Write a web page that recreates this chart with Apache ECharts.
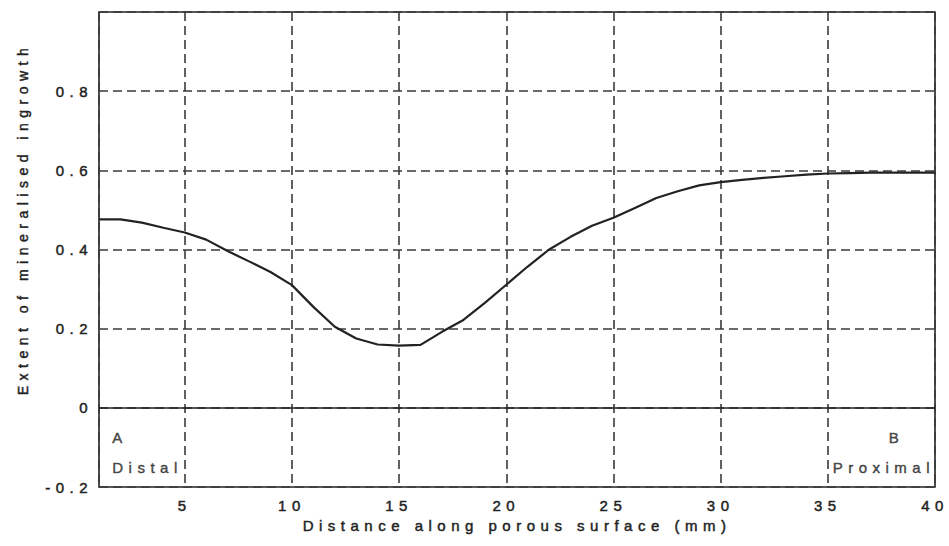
<!DOCTYPE html>
<html>
<head>
<meta charset="utf-8">
<script src="https://cdn.jsdelivr.net/npm/echarts@6/dist/echarts.min.js"></script>
<style>
  html, body { margin: 0; padding: 0; background: #ffffff; }
  #chart { width: 949px; height: 546px; }
  /* the figure's lettering is typed with wide spacing */
  #chart text { letter-spacing: 5.5px; }
</style>
</head>
<body>
<div id="chart"></div>
<script>
// Distance along the porous surface (mm) and the extent of mineralised ingrowth
const distanceMm = [1, 2, 3, 4, 5, 6, 7, 8, 9, 10,
                    11, 12, 13, 14, 15, 16, 17, 18, 19, 20,
                    21, 22, 23, 24, 25, 26, 27, 28, 29, 30,
                    31, 32, 33, 34, 35, 36, 37, 38, 39, 40];
const ingrowth = [0.476, 0.476, 0.468, 0.455, 0.443, 0.425, 0.396, 0.370, 0.343, 0.310,
                  0.255, 0.205, 0.175, 0.160, 0.157, 0.159, 0.192, 0.222, 0.265, 0.311,
                  0.357, 0.400, 0.432, 0.460, 0.480, 0.505, 0.530, 0.547, 0.562, 0.570,
                  0.576, 0.581, 0.585, 0.589, 0.592, 0.593, 0.594, 0.594, 0.594, 0.594];

// Axis tick labels
const xTickLabels = ['5', '10', '15', '20', '25', '30', '35', '40'];
const yTickValues = [-0.2, 0, 0.2, 0.4, 0.6, 0.8];
const yTickLabels = ['-0.2', '0', '0.2', '0.4', '0.6', '0.8'];

// Titles and end annotations
const xTitle = 'Distance along porous surface (mm)';
const yTitle = 'Extent of mineralised ingrowth';
const endLetters = ['A', 'B'];
const endNames = ['Distal', 'Proximal'];

const FONT = "'Liberation Sans', Arial, Helvetica, sans-serif";
const INK = '#222222';
const TEXT = '#222222';
const GRIDLINE = '#3a3a3a';

// a hairline outline gives the lettering a little more weight
const textWeight = { textBorderColor: TEXT, textBorderWidth: 0.45 };

const chart = echarts.init(document.getElementById('chart'), null, { renderer: 'svg' });

const lineData = distanceMm.map((d, i) => [d, ingrowth[i]]);

const annotationStyle = Object.assign(
  { show: true, position: 'inside', color: TEXT, fontFamily: FONT, fontSize: 15, verticalAlign: 'middle' },
  textWeight
);

chart.setOption({
  animation: false,
  backgroundColor: '#ffffff',
  grid: {
    left: 99, right: 14, top: 12, bottom: 59,
    show: true, borderColor: INK, borderWidth: 1.6, backgroundColor: 'transparent'
  },
  xAxis: {
    type: 'value',
    min: 1, max: 40,
    splitNumber: 8,
    axisLine: { show: false },
    axisTick: { show: false },
    axisLabel: Object.assign({
      color: TEXT, fontFamily: FONT, fontSize: 15, margin: 11,
      showMinLabel: false,
      formatter: (v) => {
        const s = String(Math.round(v));
        return xTickLabels.includes(s) ? s : '';
      }
    }, textWeight),
    splitLine: { show: true, lineStyle: { color: GRIDLINE, width: 1.6, type: [9, 5] } },
    name: xTitle,
    nameLocation: 'middle',
    nameGap: 27,
    nameTextStyle: Object.assign({ color: TEXT, fontFamily: FONT, fontSize: 15 }, textWeight)
  },
  yAxis: {
    type: 'value',
    min: -0.2, max: 1.0, interval: 0.2,
    axisLine: { show: false },
    axisTick: { show: false },
    axisLabel: Object.assign({
      color: TEXT, fontFamily: FONT, fontSize: 15, margin: 6,
      showMaxLabel: false,
      formatter: (v) => {
        const i = yTickValues.findIndex((t) => Math.abs(t - v) < 1e-6);
        return i >= 0 ? yTickLabels[i] : '';
      }
    }, textWeight),
    splitLine: { show: true, lineStyle: { color: GRIDLINE, width: 1.6, type: [9, 5] } }
  },
  graphic: [{
    type: 'text',
    x: 23, y: 219,
    rotation: Math.PI / 2,
    style: {
      text: yTitle,
      fill: TEXT,
      stroke: TEXT,
      lineWidth: 0.45,
      font: '14px ' + FONT,
      textAlign: 'center',
      textVerticalAlign: 'middle'
    }
  }],
  series: [
    {
      type: 'line',
      data: lineData,
      showSymbol: false,
      symbol: 'none',
      lineStyle: { color: INK, width: 2.2 },
      z: 5,
      markLine: {
        silent: true,
        symbol: 'none',
        label: { show: false },
        lineStyle: { color: INK, width: 1.6, type: 'solid' },
        data: [{ yAxis: 0 }]
      }
    },
    {
      type: 'scatter',
      symbolSize: 0,
      silent: true,
      data: [
        { value: [1.62, -0.075], name: endLetters[0], label: Object.assign({}, annotationStyle, { align: 'left' }) },
        { value: [1.62, -0.150], name: endNames[0], label: Object.assign({}, annotationStyle, { align: 'left' }) },
        { value: [38.2, -0.075], name: endLetters[1], label: Object.assign({}, annotationStyle, { align: 'center' }) },
        { value: [40.0, -0.150], name: endNames[1], label: Object.assign({}, annotationStyle, { align: 'right' }) }
      ],
      label: { show: true, formatter: (p) => p.name }
    }
  ]
});
</script>
</body>
</html>
